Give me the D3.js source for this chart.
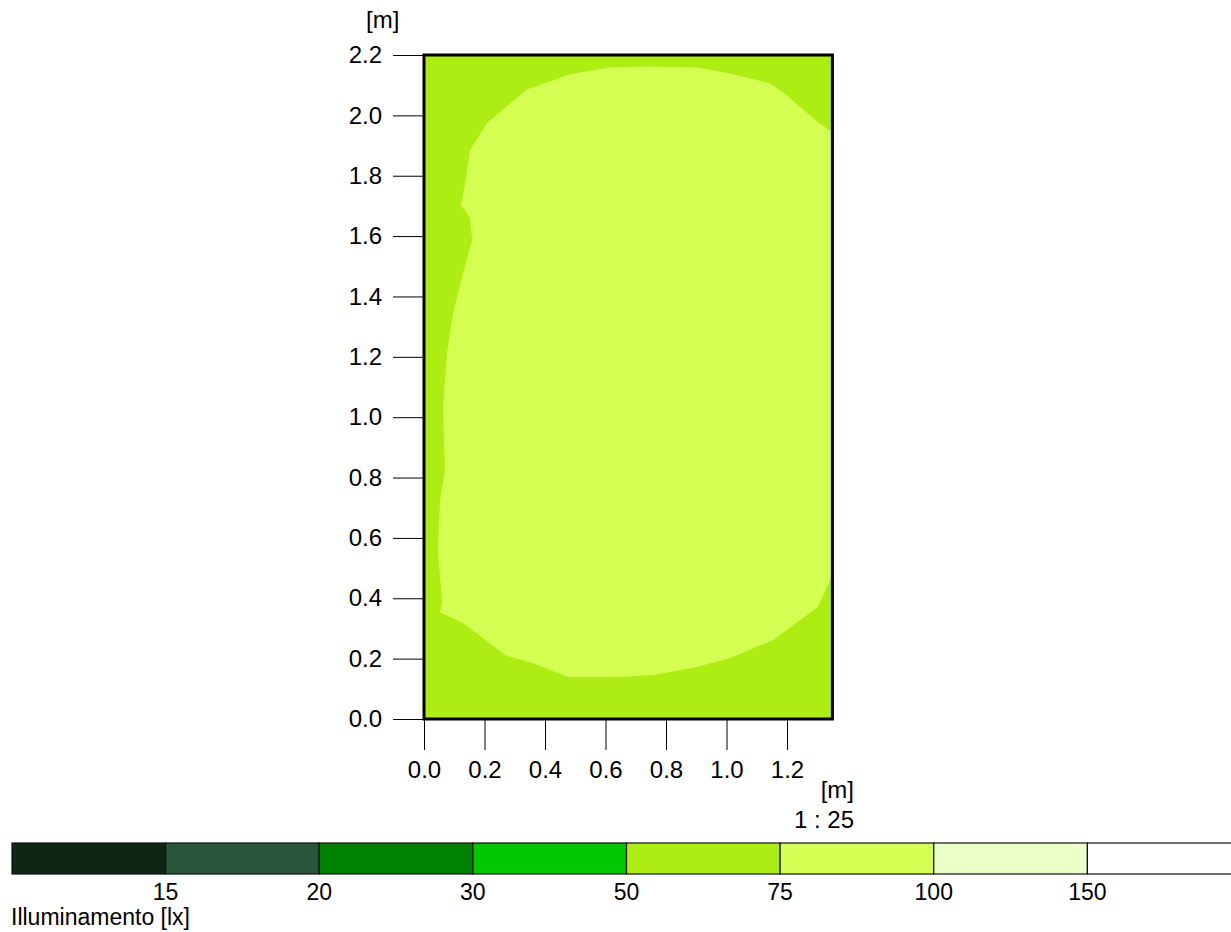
<!DOCTYPE html>
<html><head><meta charset="utf-8">
<script src="https://cdn.jsdelivr.net/npm/d3@7"></script>
<style>
html,body{margin:0;padding:0;background:#fff;}
svg{display:block;font-family:"Liberation Sans",Arial,sans-serif;}
</style></head>
<body>
<svg id="c" width="1231" height="932"></svg>
<script>
// ---- data ----
const roomWidth = 1.35;   // m
const roomDepth = 2.2;    // m
const xTicks = [0.0, 0.2, 0.4, 0.6, 0.8, 1.0, 1.2];
const yTicks = [0.0, 0.2, 0.4, 0.6, 0.8, 1.0, 1.2, 1.4, 1.6, 1.8, 2.0, 2.2];
const legendThresholds = [15, 20, 30, 50, 75, 100, 150];
const legendColors = ["#0e2616", "#29553b", "#008000", "#00c800", "#aeed14", "#d4ff52", "#ebffc8", "#ffffff"];
const backgroundLevel = 60;  // lx zone 50-75
const isoLevel = 85;         // lx zone 75-100
// isoline (75 lx) boundary, metres
const isoX = [1.35, 1.302, 1.200, 1.144, 1.012, 0.902, 0.747, 0.615, 0.483, 0.340, 0.208, 0.152, 0.136, 0.122, 0.152, 0.159, 0.129, 0.096, 0.076, 0.063, 0.069, 0.053, 0.046, 0.060, 0.053, 0.129, 0.268, 0.367, 0.476, 0.648, 0.757, 0.889, 1.012, 1.154, 1.302, 1.35];
const isoY = [1.944, 1.977, 2.066, 2.106, 2.139, 2.159, 2.162, 2.159, 2.136, 2.086, 1.974, 1.884, 1.775, 1.702, 1.662, 1.586, 1.477, 1.344, 1.212, 1.033, 0.825, 0.725, 0.560, 0.384, 0.354, 0.318, 0.212, 0.182, 0.139, 0.139, 0.146, 0.169, 0.202, 0.262, 0.371, 0.477];

// ---- drawing ----
const FS = 24;
const LFS = 23;
const svg = d3.select("#c");
const x = d3.scaleLinear().domain([0, roomWidth]).range([424, 832.4]);
const y = d3.scaleLinear().domain([0, roomDepth]).range([719, 55]);
const color = d3.scaleThreshold().domain(legendThresholds).range(legendColors);

svg.append("rect").attr("x", x(0)).attr("y", y(roomDepth))
  .attr("width", x(roomWidth) - x(0)).attr("height", y(0) - y(roomDepth))
  .attr("fill", color(backgroundLevel));

const pts = isoX.map((v, i) => [v, isoY[i]]);
svg.append("path").datum(pts)
  .attr("d", d3.line().x(d => x(d[0])).y(d => y(d[1])).curve(d3.curveLinearClosed))
  .attr("fill", color(isoLevel));

// Y axis
const yAxis = d3.axisLeft(y).tickValues(yTicks).tickFormat(d3.format(".1f")).tickSize(31).tickPadding(11);
const gy = svg.append("g").attr("transform", `translate(${x(0)},0)`).call(yAxis);
gy.select(".domain").remove();
gy.selectAll("line").attr("stroke", "#000");
gy.selectAll("text").attr("font-size", FS).attr("fill", "#000").attr("font-family", "Liberation Sans, Arial, sans-serif");

// X axis
const xAxis = d3.axisBottom(x).tickValues(xTicks).tickFormat(d3.format(".1f")).tickSize(31).tickPadding(11);
const gx = svg.append("g").attr("transform", `translate(0,${y(0)})`).call(xAxis);
gx.select(".domain").remove();
gx.selectAll("line").attr("stroke", "#000");
gx.selectAll("text").attr("font-size", FS).attr("fill", "#000").attr("font-family", "Liberation Sans, Arial, sans-serif");

// frame
svg.append("rect").attr("x", x(0)).attr("y", y(roomDepth))
  .attr("width", x(roomWidth) - x(0)).attr("height", y(0) - y(roomDepth))
  .attr("fill", "none").attr("stroke", "#000").attr("stroke-width", 3);

// unit labels
svg.append("text").attr("x", 366).attr("y", 28).attr("font-size", FS).text("[m]");
svg.append("text").attr("x", 854).attr("y", 798).attr("font-size", FS).attr("text-anchor", "end").text("[m]");
svg.append("text").attr("x", 854).attr("y", 828).attr("font-size", FS).attr("text-anchor", "end").text("1 : 25");

// legend
const lx = d3.scaleLinear().domain([0, legendColors.length]).range([12, 1241]);
const lg = svg.append("g");
lg.selectAll("rect").data(legendColors).join("rect")
  .attr("x", (d, i) => lx(i)).attr("y", 843)
  .attr("width", (d, i) => lx(i + 1) - lx(i)).attr("height", 31)
  .attr("fill", d => d).attr("stroke", "#111").attr("stroke-width", 1.2);
lg.selectAll("text").data(legendThresholds).join("text")
  .attr("x", (d, i) => lx(i + 1)).attr("y", 900)
  .attr("text-anchor", "middle").attr("font-size", LFS).text(d => d);
svg.append("text").attr("x", 11).attr("y", 925).attr("font-size", LFS).text("Illuminamento [lx]");
</script>
</body></html>
